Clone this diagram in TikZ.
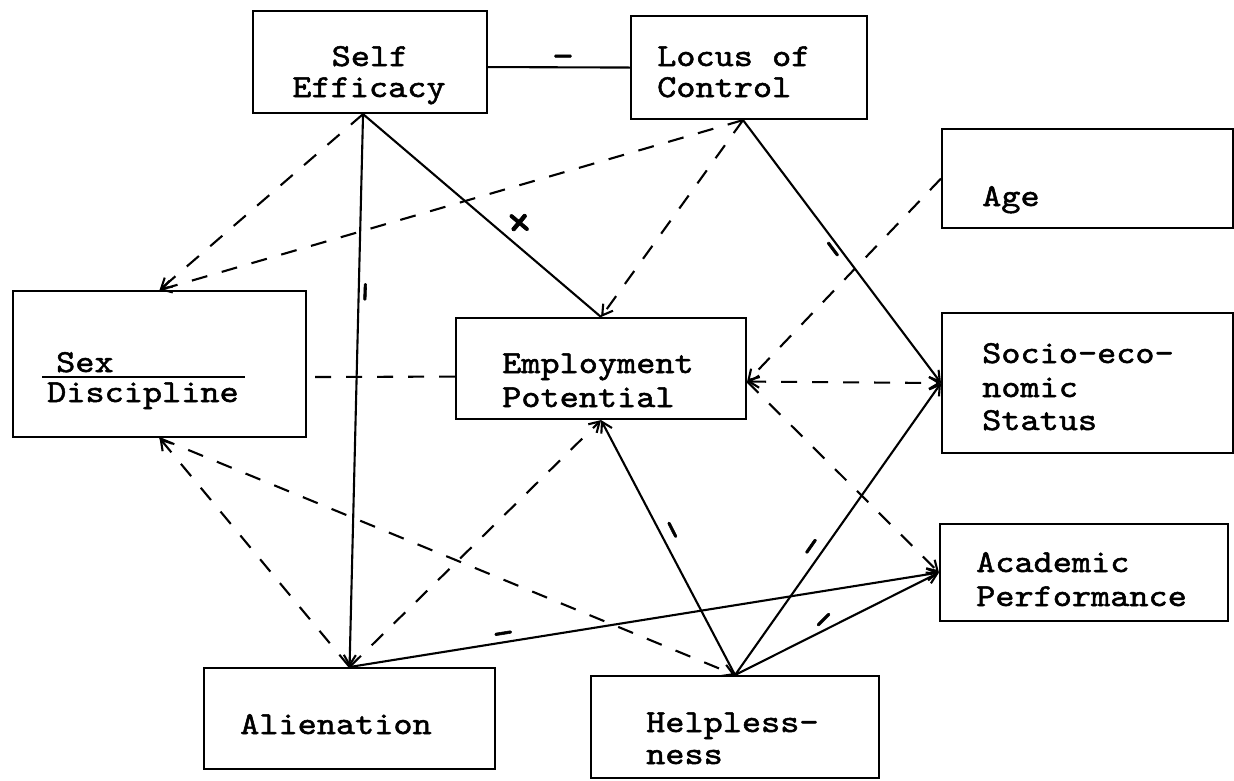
\documentclass[tikz,border=0pt]{standalone}
\usepackage{fontspec}
\usetikzlibrary{arrows.meta}
\newfontfamily\twfam{lmmono10-regular}[Extension=.otf,FakeStretch=1.14,FakeBold=1.6]
\begin{document}
\begin{tikzpicture}[x=1pt, y=-1pt,
  every node/.style={font=\twfam\fontsize{32}{34}\selectfont},
  box/.style={draw, line width=2.1pt, inner sep=0pt, anchor=north west},
  txt/.style={inner sep=0pt, anchor=base west},
  sign/.style={inner sep=0pt, font=\twfam\fontsize{36}{36}\selectfont},
  bigsign/.style={inner sep=0pt, font=\twfam\fontsize{46}{46}\selectfont},
  link/.style={line width=2.1pt},
  hyp/.style={line width=2.1pt, dash pattern=on 16pt off 15pt},
  tip/.style={-{Straight Barb[length=10pt,width=12pt]}},
  twotips/.style={{Straight Barb[length=10pt,width=12pt]}-{Straight Barb[length=10pt,width=12pt]}},
]
\useasboundingbox (0,0) rectangle (1234,780);

% boxes
\node[box, minimum width=234pt, minimum height=102pt] (se)    at (252,10)  {};
\node[box, minimum width=236pt, minimum height=103pt] (loc)   at (630,15)  {};
\node[box, minimum width=291pt, minimum height=99pt]  (age)   at (941,128) {};
\node[box, minimum width=293pt, minimum height=146pt] (sex)   at (12,290)  {};
\node[box, minimum width=290pt, minimum height=101pt] (emp)   at (455,317) {};
\node[box, minimum width=291pt, minimum height=140pt] (ses)   at (941,312) {};
\node[box, minimum width=288pt, minimum height=97pt]  (acad)  at (939,523) {};
\node[box, minimum width=291pt, minimum height=101pt] (alien) at (203,667) {};
\node[box, minimum width=288pt, minimum height=102pt] (help)  at (590,675) {};

% box texts
\node[txt, anchor=base] (t-se1) at (370,66) {Self};
\node[txt, anchor=base] (t-se2) at (369,97) {Efficacy};
\node[txt] (t-loc1)  at (657,66)  {Locus of};
\node[txt] (t-loc2)  at (657,97)  {Control};
\node[txt] (t-age)   at (982,206) {Age};
\node[txt] (t-sex1)  at (56,372)  {Sex};
\node[txt] (t-sex2)  at (47,402)  {Discipline};
\draw[line width=1.8pt] (42,377) -- (245,377);
\node[txt] (t-emp1)  at (502,373) {Employment};
\node[txt] (t-emp2)  at (502,407) {Potential};
\node[txt] (t-ses1)  at (982,363) {Socio-eco-};
\node[txt] (t-ses2)  at (982,397) {nomic};
\node[txt] (t-ses3)  at (982,430) {Status};
\node[txt] (t-acad1) at (976,572) {Academic};
\node[txt] (t-acad2) at (976,606) {Performance};
\node[txt] (t-alien) at (240,734) {Alienation};
\node[txt] (t-help1) at (646,732) {Helpless-};
\node[txt] (t-help2) at (646,764) {ness};

% solid paths
\draw[link] ([yshift=-5pt]se.east) -- (loc.west);
\draw[link] ([xshift=-7pt]se.south) -- (emp.north);
\draw[link, tip] ([xshift=-7pt]se.south) -- (alien.north);
\draw[link, tip] ([xshift=-6pt]loc.south) -- (ses.west);
\draw[link, tip] (help.north) -- (emp.south);
\draw[link, tip] (help.north) -- (ses.west);
\draw[link, tip] (help.north) -- (acad.west);
\draw[link, tip] (alien.north) -- (acad.west);

% dashed paths
\draw[hyp, tip] ([xshift=-7pt]se.south) -- (sex.north);
\draw[hyp, tip] ([xshift=-6pt]loc.south) -- (sex.north);
\draw[hyp, tip] ([xshift=-6pt]loc.south) -- (emp.north);
\draw[hyp, tip] (age.west) -- ([yshift=-13pt]emp.east);
\draw[hyp, twotips] ([yshift=-13pt]emp.east) -- (ses.west);
\draw[hyp, tip] ([yshift=-13pt]emp.east) -- (acad.west);
\draw[hyp] ([yshift=-8pt]emp.west) -- ([yshift=-13pt]sex.east);
\draw[hyp, tip] (alien.north) -- (sex.south);
\draw[hyp, tip] (sex.south) -- (help.north);
\draw[hyp, tip] (alien.north) -- (emp.south);

% signs on the paths
\node[sign] (m-seloc) at (563,61) {–};
\node[bigsign, rotate=-40] (m-seemp) at (518,224) {+};
\node[sign, rotate=88] (m-sealien) at (370,292) {–};
\node[sign, rotate=-53] (m-locses) at (829,252) {–};
\node[sign, rotate=-63] (m-helpemp) at (668,532) {–};
\node[sign, rotate=55] (m-helpses) at (815,549) {–};
\node[sign, rotate=45] (m-helpacad) at (827,623) {–};
\node[sign, rotate=9] (m-alienacad) at (504,638) {–};
\end{tikzpicture}
\end{document}
